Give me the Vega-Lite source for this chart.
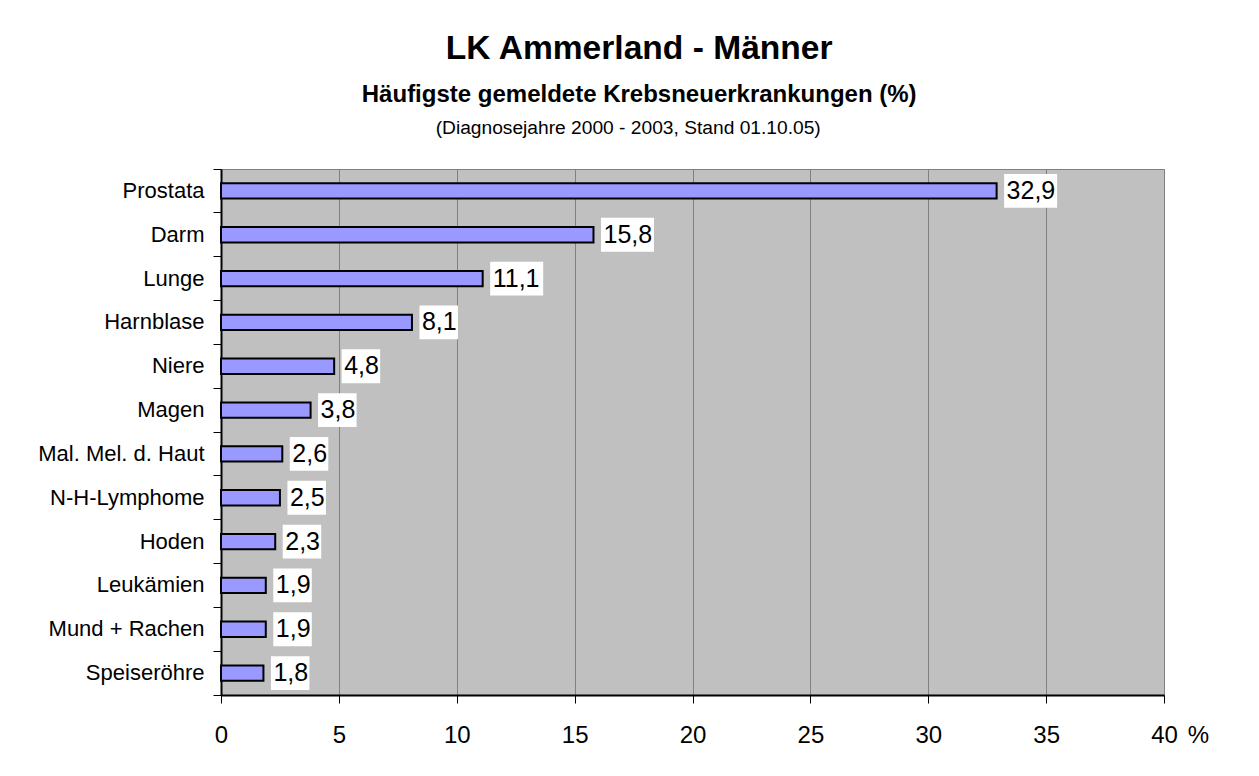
{
  "$schema": "https://vega.github.io/schema/vega-lite/v6.json",
  "background": "white",
  "padding": {"left": 37, "top": 31, "right": 5, "bottom": 5},
  "title": {
    "text": "LK Ammerland - Männer",
    "subtitle": "Häufigste gemeldete Krebsneuerkrankungen (%)",
    "fontSize": 33.6,
    "fontWeight": "bold",
    "subtitleFontSize": 24,
    "subtitleFontWeight": "bold",
    "subtitleColor": "black",
    "subtitlePadding": 18,
    "anchor": "middle",
    "offset": 11,
    "dx": 16
  },
  "datasets": {
    "d": [
      {"k": "Prostata", "v": 32.9},
      {"k": "Darm", "v": 15.8},
      {"k": "Lunge", "v": 11.1},
      {"k": "Harnblase", "v": 8.1},
      {"k": "Niere", "v": 4.8},
      {"k": "Magen", "v": 3.8},
      {"k": "Mal. Mel. d. Haut", "v": 2.6},
      {"k": "N-H-Lymphome", "v": 2.5},
      {"k": "Hoden", "v": 2.3},
      {"k": "Leukämien", "v": 1.9},
      {"k": "Mund + Rachen", "v": 1.9},
      {"k": "Speiseröhre", "v": 1.8}
    ]
  },
  "vconcat": [
    {
      "title": {
        "text": "(Diagnosejahre 2000 - 2003, Stand 01.10.05)",
        "fontSize": 19.2,
        "fontWeight": "normal",
        "anchor": "middle",
        "frame": "bounds",
        "offset": 20,
        "dx": 5
      },
      "width": 943,
      "height": 526,
      "data": {"name": "d"},
      "encoding": {
        "y": {
          "field": "k",
          "type": "nominal",
          "sort": null,
          "scale": {"paddingInner": 0, "paddingOuter": 0},
          "axis": {
            "title": null,
            "tickSize": 8,
            "bandPosition": 1,
            "tickExtra": true,
            "labelPadding": 9,
            "labelFontSize": 22,
            "domainColor": "black",
            "domainWidth": 2,
            "tickColor": "black",
            "tickWidth": 1,
            "grid": false
          }
        },
        "x": {
          "field": "v",
          "type": "quantitative",
          "scale": {"domain": [0, 40], "nice": false, "zero": true},
          "axis": {
            "values": [0, 5, 10, 15, 20, 25, 30, 35, 40],
            "grid": true,
            "gridColor": "#808080",
            "gridWidth": 1,
            "tickSize": 8,
            "tickColor": "black",
            "domainColor": "black",
            "domainWidth": 2,
            "labelFontSize": 24,
            "labelBaseline": "alphabetic",
            "labelPadding": 39,
            "labelFlush": false,
            "labelOverlap": false,
            "title": "%",
            "titleFontSize": 24,
            "titleFontWeight": "normal",
            "titleX": 977,
            "titleY": 47,
            "titleAlign": "center",
            "titleBaseline": "alphabetic"
          }
        }
      },
      "layer": [
        {
          "mark": {"type": "bar", "height": {"band": 0.35}, "fill": "#9999FF", "stroke": "black", "strokeWidth": 2}
        },
        {
          "transform": [{"filter": "datum.v >= 10"}],
          "mark": {"type": "bar", "height": {"band": 0.77}, "fill": "white", "xOffset": 7.5, "x2Offset": 60.5},
          "encoding": {"x2": {"field": "v"}}
        },
        {
          "transform": [{"filter": "datum.v < 10"}],
          "mark": {"type": "bar", "height": {"band": 0.77}, "fill": "white", "xOffset": 7.5, "x2Offset": 46},
          "encoding": {"x2": {"field": "v"}}
        },
        {
          "mark": {"type": "text", "align": "left", "baseline": "middle", "dx": 10, "fontSize": 25, "color": "black"},
          "encoding": {
            "text": {"field": "v", "type": "quantitative", "format": ".1f"}
          }
        }
      ]
    }
  ],
  "config": {
    "font": "Liberation Sans",
    "locale": {"number": {"decimal": ",", "thousands": ".", "grouping": [3], "currency": ["", " €"]}},
    "view": {"fill": "#C0C0C0", "stroke": "#808080", "strokeWidth": 1},
    "axis": {"labelFont": "Liberation Sans", "labelColor": "black", "titleFont": "Liberation Sans", "titleColor": "black"},
    "title": {"font": "Liberation Sans", "color": "black", "subtitleFont": "Liberation Sans"},
    "text": {"font": "Liberation Sans"}
  }
}
